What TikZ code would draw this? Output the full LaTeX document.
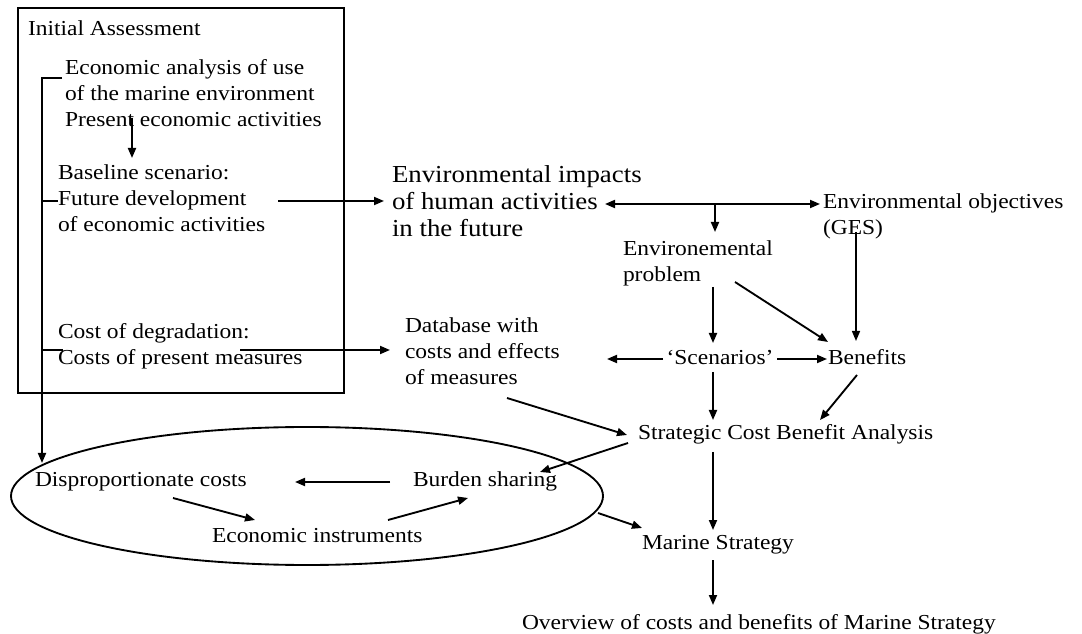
\documentclass[tikz,border=0pt]{standalone}
\usepackage{fontspec}
\setmainfont{Liberation Serif}[FakeStretch=1.1]
\usetikzlibrary{arrows.meta,shapes.geometric}
\newcommand\bodyf{\fontsize{16}{19.5}\selectfont}
\newcommand\bigf{\fontsize{18.3}{20.25}\selectfont}
\begin{document}
\begin{tikzpicture}[x=0.75pt,y=-0.75pt,
  every node/.style={inner sep=0pt,outer sep=0pt},
  txt/.style={font=\bodyf,align=left,anchor=base west},
  bigtxt/.style={font=\bigf,align=left,anchor=base west},
  con/.style={line width=1.4pt},
  arr/.style={con,-{Triangle[length=7.5pt,width=6pt]}},
  darr/.style={con,{Triangle[length=7.5pt,width=6pt]}-{Triangle[length=7.5pt,width=6pt]}}]
\useasboundingbox (0,0) rectangle (1082,634);
% frames
\node[draw,line width=1.5pt,anchor=north west,minimum width=244.5pt,minimum height=288.75pt] (box) at (18,8) {};
\node[draw,ellipse,line width=1.4pt,minimum width=444pt,minimum height=103.5pt] (ell) at (307,496) {};
% texts (multi-line nodes are placed by the baseline of their last line)
\node[txt] (init) at (28,36) {Initial Assessment};
\node[txt] (econ) at (65,127) {Economic analysis of use\\of the marine environment\\Present economic activities};
\node[txt] (base) at (58,232) {Baseline scenario:\\Future development\\of economic activities};
\node[txt] (cost) at (58,365) {Cost of degradation:\\Costs of present measures};
\node[bigtxt] (imp) at (392,237) {Environmental impacts\\of human activities\\in the future};
\node[txt] (obj) at (823,235) {Environmental objectives\\(GES)};
\node[txt] (prob) at (623,282) {Environemental\\problem};
\node[txt] (db) at (405,385) {Database with\\costs and effects\\of measures};
\node[txt,anchor=base] (scen) at (720,365) {‘Scenarios’};
\node[txt] (ben) at (828,365) {Benefits};
\node[txt] (scba) at (638,440) {Strategic Cost Benefit Analysis};
\node[txt] (disp) at (35,487) {Disproportionate costs};
\node[txt] (burden) at (413,487) {Burden sharing};
\node[txt] (einst) at (212,542) {Economic instruments};
\node[txt,anchor=base] (marine) at (718,549) {Marine Strategy};
\node[txt] (over) at (522,629) {Overview of costs and benefits of Marine Strategy};
% connector end points
\coordinate (c01) at (132,118); \coordinate (c02) at (132,158);
\coordinate (c03) at (62,78); \coordinate (c04) at (42,78); \coordinate (c05) at (42,463);
\coordinate (c06) at (42,201); \coordinate (c07) at (58,201);
\coordinate (c08) at (278,201); \coordinate (c09) at (384,201);
\coordinate (c10) at (42,350); \coordinate (c11) at (63,350);
\coordinate (c12) at (240,350); \coordinate (c13) at (390,350);
\coordinate (c14) at (605,204); \coordinate (c15) at (820,204);
\coordinate (c16) at (715,204); \coordinate (c17) at (715,232);
\coordinate (c18) at (713,287); \coordinate (c19) at (713,343);
\coordinate (c20) at (735,282); \coordinate (c21) at (828,342);
\coordinate (c22) at (856,232); \coordinate (c23) at (856,341);
\coordinate (c24) at (663,359); \coordinate (c25) at (607,359);
\coordinate (c26) at (777,359); \coordinate (c27) at (827,359);
\coordinate (c28) at (713,372); \coordinate (c29) at (713,420);
\coordinate (c30) at (857,375); \coordinate (c31) at (820,420);
\coordinate (c32) at (507,398); \coordinate (c33) at (627,435);
\coordinate (c34) at (628,443); \coordinate (c35) at (540,472);
\coordinate (c36) at (713,452); \coordinate (c37) at (713,530);
\coordinate (c38) at (598,513); \coordinate (c39) at (642,528);
\coordinate (c40) at (713,560); \coordinate (c41) at (713,605);
\coordinate (c42) at (390,482); \coordinate (c43) at (295,482);
\coordinate (c44) at (173,498); \coordinate (c45) at (255,520);
\coordinate (c46) at (388,520); \coordinate (c47) at (468,498);
% connectors
\draw[arr] (c01) -- (c02);
\draw[arr] (c03) -- (c04) -- (c05);
\draw[con] (c06) -- (c07);
\draw[arr] (c08) -- (c09);
\draw[con] (c10) -- (c11);
\draw[arr] (c12) -- (c13);
\draw[darr] (c14) -- (c15);
\draw[arr] (c16) -- (c17);
\draw[arr] (c18) -- (c19);
\draw[arr] (c20) -- (c21);
\draw[arr,line width=1.1pt] (c22) -- (c23);
\draw[arr] (c24) -- (c25);
\draw[arr] (c26) -- (c27);
\draw[arr] (c28) -- (c29);
\draw[arr] (c30) -- (c31);
\draw[arr] (c32) -- (c33);
\draw[arr] (c34) -- (c35);
\draw[arr] (c36) -- (c37);
\draw[arr] (c38) -- (c39);
\draw[arr] (c40) -- (c41);
\draw[arr] (c42) -- (c43);
\draw[arr] (c44) -- (c45);
\draw[arr] (c46) -- (c47);
\end{tikzpicture}
\end{document}
